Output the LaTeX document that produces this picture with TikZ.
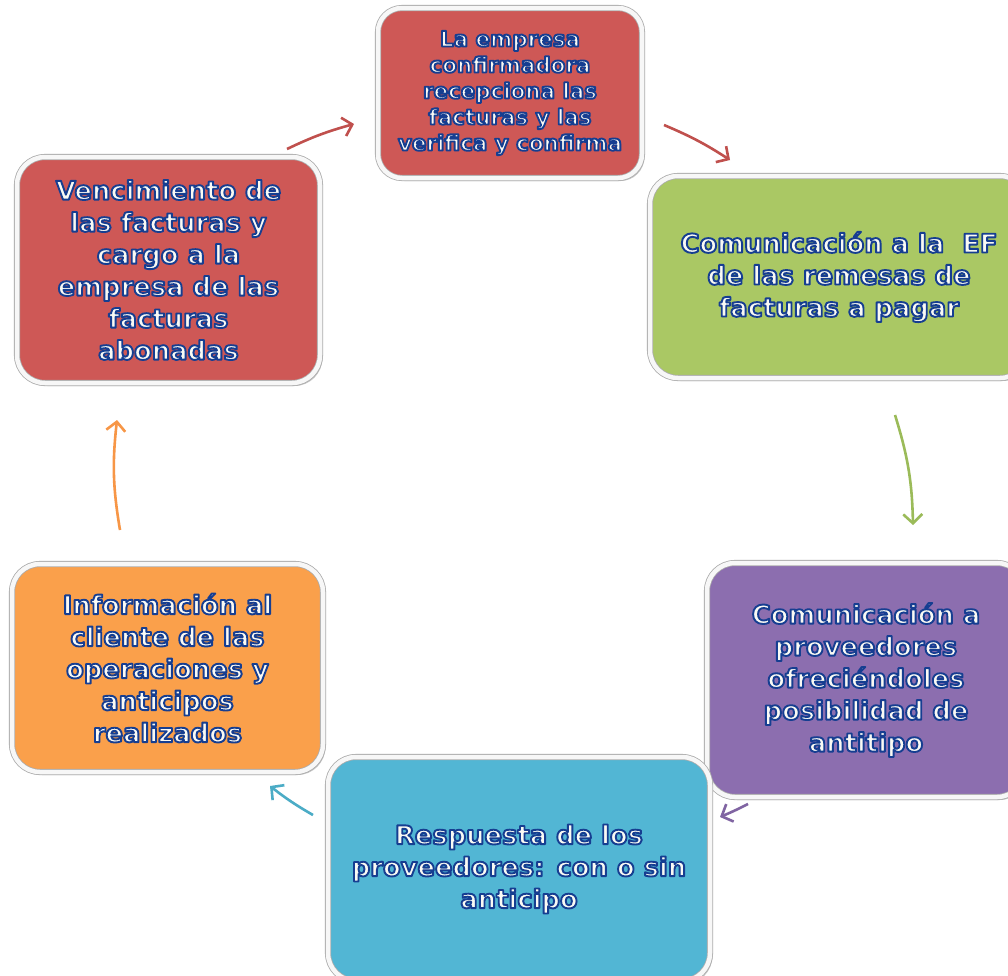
\documentclass[tikz,border=0pt]{standalone}
\usepackage{fontspec}
\setmainfont{DejaVu Sans}
\usetikzlibrary{arrows.meta,shadows}
\definecolor{olblue}{RGB}{22,62,145}
\definecolor{txtw}{RGB}{250,250,244}
\definecolor{bred}{RGB}{206,88,86}
\definecolor{bgreen}{RGB}{170,200,100}
\definecolor{bpurple}{RGB}{140,110,175}
\definecolor{bblue}{RGB}{82,182,212}
\definecolor{borange}{RGB}{250,160,75}
\definecolor{ared}{RGB}{192,80,77}
\definecolor{agreen}{RGB}{155,187,89}
\definecolor{apurple}{RGB}{128,100,162}
\definecolor{ablue}{RGB}{75,172,198}
\definecolor{aorange}{RGB}{247,150,70}
% outlined text: fill + stroke render mode
\newcommand\ol[1]{\special{pdf:literal direct 2 Tr 1.9 w 1 j 0.086 0.243 0.569 RG}#1\special{pdf:literal direct 0 Tr}}
\tikzset{
  box/.style={rectangle, rounded corners=28pt, draw=gray!65, double=white!94!gray,
    double distance=4.5pt, line width=0.8pt, align=center, inner sep=0pt, text=txtw,
    font=\bfseries\fontsize{25.8}{32}\selectfont,
    drop shadow={shadow xshift=2.5pt, shadow yshift=-3pt, opacity=0.45}},
  arr/.style={line width=2.6pt, -{Straight Barb[length=9pt,width=19pt,line width=2.6pt]}}
}
\begin{document}
\begin{tikzpicture}[x=1pt,y=-1pt]
\clip (0,0) rectangle (1008,975);
\fill[white] (0,0) rectangle (1008,975);
% boxes
\node[box, fill=bred, minimum width=264pt, minimum height=170pt, rounded corners=24pt,
  font=\bfseries\fontsize{21.4}{26}\selectfont] (n1) at (510,93)
  {\ol{La empresa}\\\ol{confirmadora}\\\ol{recepciona las}\\\ol{facturas y las}\\\ol{verifica y confirma}};
\node[box, fill=bgreen, minimum width=378pt, minimum height=202pt] (n2) at (839,277)
  {\ol{Comunicación a la\ \ EF}\\\ol{de las remesas de}\\\ol{facturas a pagar}};
\node[box, fill=bpurple, minimum width=318pt, minimum height=234pt] (n3) at (866,680)
  {\ol{Comunicación a}\\\ol{proveedores}\\\ol{ofreciéndoles}\\\ol{posibilidad de}\\\ol{antitipo}};
\node[box, fill=bblue, minimum width=382pt, minimum height=224pt] (n4) at (519,869)
  {\ol{Respuesta de los}\\\ol{proveedores: con o sin}\\\ol{anticipo}};
\node[box, fill=borange, minimum width=311pt, minimum height=208pt] (n5) at (167.5,668)
  {\ol{Información al}\\\ol{cliente de las}\\\ol{operaciones y}\\\ol{anticipos}\\\ol{realizados}};
\node[box, fill=bred, minimum width=303pt, minimum height=226pt] (n6) at (168.5,270)
  {\ol{Vencimiento de}\\\ol{las facturas y}\\\ol{cargo a la}\\\ol{empresa de las}\\\ol{facturas}\\\ol{abonadas}};
% arrow end points
\coordinate (a1s) at (287,149); \coordinate (a1e) at (354,124);
\coordinate (a2s) at (664,125); \coordinate (a2e) at (730,160);
\coordinate (a3s) at (895,415); \coordinate (a3e) at (913,525);
\coordinate (a4s) at (748,804); \coordinate (a4e) at (720,817);
\coordinate (a5s) at (313,815); \coordinate (a5e) at (270,786);
\coordinate (a6s) at (120,530); \coordinate (a6e) at (117,420);
\draw[arr, ared] (a1s) to[bend left=5] (a1e);
\draw[arr, ared] (a2s) to[bend left=5] (a2e);
\draw[arr, agreen] (a3s) to[bend left=8] (a3e);
\draw[arr, apurple] (a4s) to[bend left=2] (a4e);
\draw[arr, ablue] (a5s) to[bend left=4] (a5e);
\draw[arr, aorange] (a6s) to[bend left=8] (a6e);
\end{tikzpicture}
\end{document}
